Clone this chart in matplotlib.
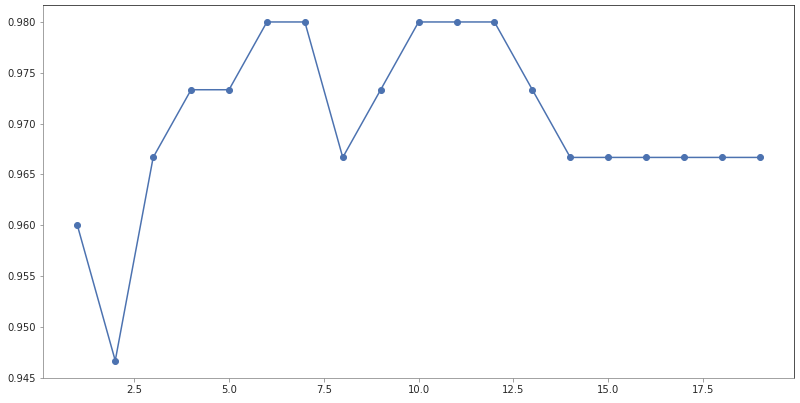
import matplotlib
matplotlib.use("Agg")
import matplotlib.pyplot as plt

# number of neighbours vs. accuracy
k_values = list(range(1, 20))
scores = [0.960, 0.94667, 0.96667, 0.97333, 0.97333, 0.980, 0.980, 0.96667, 0.97333,
          0.980, 0.980, 0.980, 0.97333, 0.96667, 0.96667, 0.96667, 0.96667, 0.96667, 0.96667]

# the reference looks like a 72 dpi render, so keep the default point sizes
fig = plt.figure(figsize=(800 / 72, 403 / 72), dpi=72)
ax = fig.add_axes([0.054, 0.063, 0.9385, 0.9246])

ax.plot(k_values, scores, marker='o', color='#4c72b0', linewidth=1.5, markersize=6)

ax.set_xlim(0.1, 19.9)
ax.set_ylim(0.945, 0.98167)
ax.yaxis.set_major_formatter(matplotlib.ticker.FormatStrFormatter('%.3f'))

# left/bottom spines are lighter than top/right in the reference
ax.spines['left'].set_color('#8c8c8c')
ax.spines['bottom'].set_color('#8c8c8c')
ax.spines['top'].set_color('#262626')
ax.spines['right'].set_color('#262626')
ax.tick_params(colors='#8c8c8c', labelcolor='#262626', labelsize=10)

fig.savefig("out.png", dpi=72)
